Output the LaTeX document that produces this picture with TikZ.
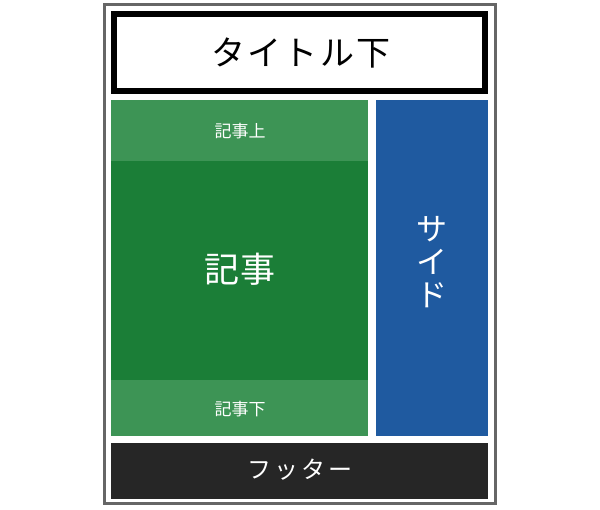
\documentclass[tikz,border=0pt]{standalone}
\usepackage{fontspec}
\setmainfont{Noto Sans CJK JP}
\definecolor{lightgreen}{HTML}{3D9455}
\definecolor{darkgreen}{HTML}{1B7E37}
\definecolor{sideblue}{HTML}{1F5AA0}
\definecolor{footgray}{HTML}{262626}
\definecolor{framegray}{HTML}{666666}
\begin{document}
\begin{tikzpicture}[x=1pt,y=-1pt,
  area/.style={inner sep=0pt, outer sep=0pt},
  wtext/.style={text=white, inner sep=0pt}]
\useasboundingbox (0,0) rectangle (600,510);
\fill[white] (0,0) rectangle (600,510);
% outer frame
\draw[framegray, line width=3pt] (104.5,4.5) rectangle (495.5,503.5);
% title
\draw[black, line width=6pt] (114,14) rectangle (485,91);
\node[inner sep=0pt] (title) at (301,53) {\fontsize{34}{34}\selectfont タ\hspace{2.5pt}イ\hspace{2.5pt}ト\hspace{2.5pt}ル\hspace{2.5pt}下};
% article areas
\fill[lightgreen] (111,100) rectangle (368,161);
\fill[darkgreen] (111,161) rectangle (368,380);
\fill[lightgreen] (111,380) rectangle (368,436);
\node[wtext] (top) at (240,131) {\fontsize{17}{17}\selectfont 記事上};
\node[wtext] (main) at (240,269) {\fontsize{35}{35}\selectfont 記\hspace{1pt}事};
\node[wtext] (bottom) at (240,409) {\fontsize{17}{17}\selectfont 記事下};
% side
\fill[sideblue] (376,100) rectangle (488,436);
\node[wtext, align=center, font=\fontsize{31}{33}\selectfont] (side) at (432,262) {サ\\イ\\ド};
% footer
\fill[footgray] (111,443) rectangle (488,499);
\node[wtext] (footer) at (300,470) {\fontsize{24}{24}\selectfont フ\hspace{3pt}ッ\hspace{3pt}タ\hspace{3pt}ー};
\end{tikzpicture}
\end{document}
